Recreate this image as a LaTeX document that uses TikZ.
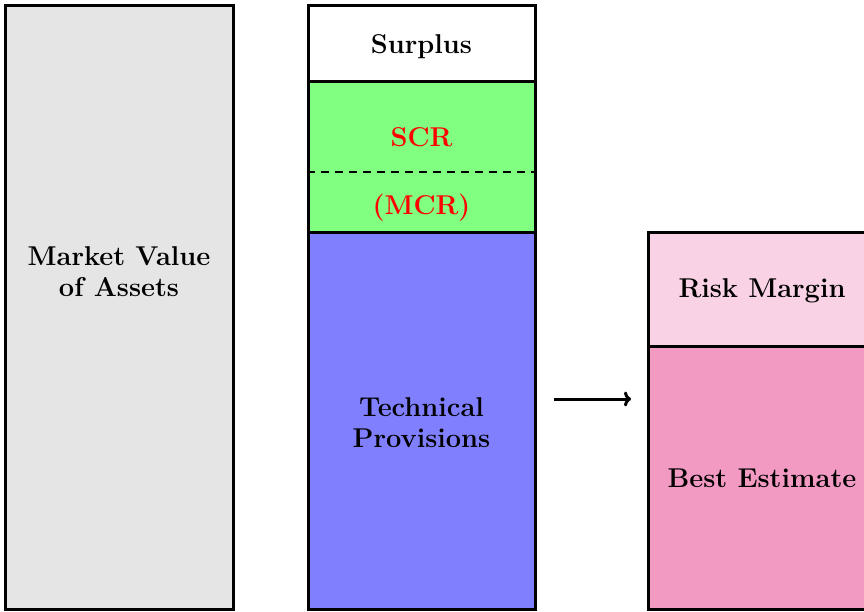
\documentclass[tikz,border=0pt]{standalone}
\usetikzlibrary{arrows.meta}
\definecolor{assetgrey}{HTML}{E5E5E5}
\definecolor{scrgreen}{HTML}{80FF80}
\definecolor{tpblue}{HTML}{8080FF}
\definecolor{rmpink}{HTML}{F9D3E5}
\definecolor{bepink}{HTML}{F39AC3}
\tikzset{
  blk/.style={draw=black, line width=3pt, rectangle, inner sep=0pt},
  lbl/.style={inner sep=0pt, align=center, anchor=base,
    font=\fontsize{27.2}{31}\selectfont\bfseries},
}
\begin{document}
\begin{tikzpicture}[x=1pt,y=-1pt]
\useasboundingbox (0,0) rectangle (864,611);
\begin{scope}
\clip (0,0) rectangle (864,611);
\node[blk, fill=assetgrey, minimum width=228pt, minimum height=604pt] (mva) at (119,307) {};
\node[blk, fill=white, minimum width=227pt, minimum height=76pt] (surplus) at (421.5,43) {};
\node[blk, fill=scrgreen, minimum width=227pt, minimum height=151pt] (scr) at (421.5,156.5) {};
\node[blk, fill=tpblue, minimum width=227pt, minimum height=377pt] (tp) at (421.5,420.5) {};
\node[blk, fill=rmpink, minimum width=228pt, minimum height=114pt] (rm) at (762,289) {};
\node[blk, fill=bepink, minimum width=228pt, minimum height=263pt] (be) at (762,477.5) {};
\end{scope}
\node[lbl] (mvat) at (119,296) {Market Value\\of Assets};
\node[lbl] (surplust) at (421.5,53) {Surplus};
\node[lbl] (tpt) at (421.5,447) {Technical\\Provisions};
\node[lbl] (rmt) at (762,297.5) {Risk Margin};
\node[lbl] (bet) at (762,487) {Best Estimate};
\coordinate (d1) at (scr.west |- 0,172);
\coordinate (d2) at (scr.east |- 0,172);
\draw[line width=2pt, dash pattern=on 8pt off 6pt] (d1) -- (d2);
\node[lbl, text=red] (scrt) at (421.5,146.5) {SCR};
\node[lbl, text=red] (mcrt) at (421.5,214) {(MCR)};
\coordinate (a1) at (554,399);
\coordinate (a2) at (631,399);
\draw[line width=3pt, -{To[length=7pt,width=15pt]}] (a1) -- (a2);
\end{tikzpicture}
\end{document}
